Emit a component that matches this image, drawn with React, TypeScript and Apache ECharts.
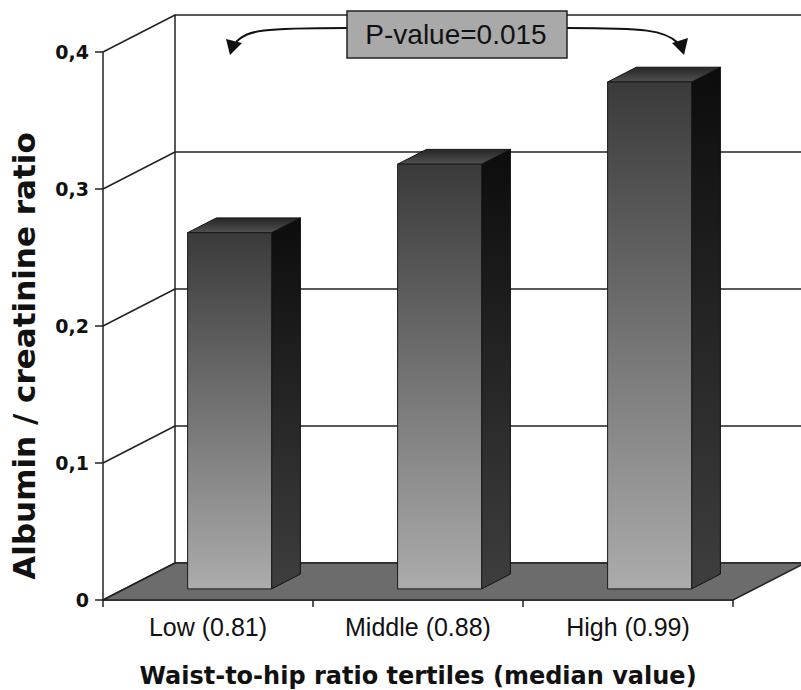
import React, { useEffect, useRef } from "react";
import * as echarts from "echarts";

const categories = ["Low (0.81)", "Middle (0.88)", "High (0.99)"];
const ratioValues = [0.26, 0.31, 0.37];
const yTickValues = [0, 0.1, 0.2, 0.3, 0.4];
const yTickLabels = ["0", "0,1", "0,2", "0,3", "0,4"];
const pValueLabel = "P-value=0.015";
const xTitle = "Waist-to-hip ratio tertiles (median value)";
const yTitle = "Albumin / creatinine ratio";

// 3D depth offset (pixels) of the chart box
const DX = 72;
const DY = -37;
const BAR_FRONT = 0.3; // depth fraction where bar front face lies
const BAR_DEPTH = 0.4; // depth fraction of bar
const BAR_WIDTH = 0.4; // fraction of category band

export default function App() {
  const ref = useRef<HTMLDivElement>(null);
  useEffect(() => {
    document.body.style.margin = "0";
    const chart = echarts.init(ref.current!, null, { renderer: "svg" });

    const frontGrad = new echarts.graphic.LinearGradient(0, 0, 0, 1, [
      { offset: 0, color: "#3a3a3a" },
      { offset: 1, color: "#acacac" },
    ]);
    const sideGrad = new echarts.graphic.LinearGradient(0, 0, 0, 1, [
      { offset: 0, color: "#0c0c0c" },
      { offset: 1, color: "#3e3e3e" },
    ]);
    const topGrad = new echarts.graphic.LinearGradient(0, 0, 0, 1, [
      { offset: 0, color: "#262626" },
      { offset: 1, color: "#505050" },
    ]);

    const option: any = {
      animation: false,
      backgroundColor: "#ffffff",
      grid: [
        { left: 103, top: 52, width: 630, height: 548, containLabel: false, outerBoundsMode: "none" },
        { left: 103 + DX, top: 52 + DY, width: 630, height: 548, containLabel: false, outerBoundsMode: "none" },
      ],
      xAxis: [
        {
          gridIndex: 0,
          type: "category",
          data: categories,
          axisLine: { show: true, lineStyle: { color: "#222", width: 1.5 } },
          axisTick: { show: true, length: 7, lineStyle: { color: "#222", width: 1.5 } },
          axisLabel: {
            margin: 14,
            fontFamily: "Liberation Sans",
            fontSize: 25,
            color: "#111",
          },
          splitLine: { show: false },
          name: xTitle,
          nameLocation: "middle",
          nameGap: 64,
          nameTextStyle: {
            fontFamily: "DejaVu Sans",
            fontWeight: "bold",
            fontSize: 24,
            color: "#111",
          },
        },
        {
          gridIndex: 1,
          type: "category",
          data: categories,
          show: false,
        },
      ],
      yAxis: [
        {
          gridIndex: 0,
          type: "value",
          min: 0,
          max: 0.4,
          interval: 0.1,
          axisLine: { show: true, lineStyle: { color: "#222", width: 1.5 } },
          axisTick: { show: true, length: 8, lineStyle: { color: "#222", width: 1.5 } },
          axisLabel: {
            margin: 14,
            fontFamily: "DejaVu Sans",
            fontWeight: "bold",
            fontSize: 19,
            color: "#111",
            formatter: (v: number, i: number) => yTickLabels[i] ?? String(v),
          },
          splitLine: { show: false },
          name: yTitle,
          nameLocation: "middle",
          nameGap: 64,
          nameTextStyle: {
            fontFamily: "DejaVu Sans",
            fontWeight: "bold",
            fontSize: 31,
            color: "#111",
            padding: [0, 60, 0, 0],
          },
        },
        {
          gridIndex: 1,
          type: "value",
          min: 0,
          max: 0.4,
          interval: 0.1,
          axisLine: { show: true, lineStyle: { color: "#222", width: 1.5 } },
          axisTick: { show: false },
          axisLabel: { show: false },
          splitLine: { show: true, lineStyle: { color: "#222", width: 1.5 } },
        },
      ],
      series: [
        {
          // diagonal lines from the front axis ticks to the back wall
          type: "custom",
          xAxisIndex: 0,
          yAxisIndex: 0,
          z: 3,
          silent: true,
          data: yTickValues.map((v) => [0, v]),
          renderItem: (params: any, api: any) => {
            const p = api.coord([0, api.value(1)]);
            const band = api.size([1, 0])[0];
            const x0 = p[0] - band / 2;
            return {
              type: "line",
              shape: { x1: x0, y1: p[1], x2: x0 + DX, y2: p[1] + DY },
              style: { stroke: "#222", lineWidth: 1.5 },
            };
          },
        },
        {
          // floor
          type: "custom",
          xAxisIndex: 0,
          yAxisIndex: 0,
          z: 4,
          silent: true,
          data: [[0, 0]],
          renderItem: (params: any, api: any) => {
            const band = api.size([1, 0])[0];
            const a = api.coord([0, 0]);
            const b = api.coord([categories.length - 1, 0]);
            const xl = a[0] - band / 2;
            const xr = b[0] + band / 2;
            const y = a[1];
            return {
              type: "polygon",
              shape: {
                points: [
                  [xl, y],
                  [xr, y],
                  [xr + DX, y + DY],
                  [xl + DX, y + DY],
                ],
              },
              style: { fill: "#6c6c6c", stroke: "#222", lineWidth: 1.5 },
            };
          },
        },
        {
          // 3D bars
          type: "custom",
          xAxisIndex: 0,
          yAxisIndex: 0,
          z: 5,
          data: ratioValues.map((v, i) => [i, v]),
          encode: { x: 0, y: 1 },
          renderItem: (params: any, api: any) => {
            const idx = api.value(0);
            const v = api.value(1);
            const base = api.coord([idx, 0]);
            const top = api.coord([idx, v]);
            const band = api.size([1, 0])[0];
            const w = band * BAR_WIDTH;
            const fx = base[0] - w / 2 + DX * BAR_FRONT;
            const fyb = base[1] + DY * BAR_FRONT;
            const fyt = top[1] + DY * BAR_FRONT;
            const dx = DX * BAR_DEPTH;
            const dy = DY * BAR_DEPTH;
            return {
              type: "group",
              children: [
                {
                  type: "polygon",
                  shape: {
                    points: [
                      [fx + w, fyt],
                      [fx + w + dx, fyt + dy],
                      [fx + w + dx, fyb + dy],
                      [fx + w, fyb],
                    ],
                  },
                  style: { fill: sideGrad, stroke: "#111", lineWidth: 1 },
                },
                {
                  type: "polygon",
                  shape: {
                    points: [
                      [fx, fyt],
                      [fx + dx, fyt + dy],
                      [fx + w + dx, fyt + dy],
                      [fx + w, fyt],
                    ],
                  },
                  style: { fill: topGrad, stroke: "#111", lineWidth: 1 },
                },
                {
                  type: "rect",
                  shape: { x: fx, y: fyt, width: w, height: fyb - fyt },
                  style: { fill: frontGrad, stroke: "#1a1a1a", lineWidth: 1 },
                },
              ],
            };
          },
        },
      ],
      graphic: [
        {
          type: "bezierCurve",
          z: 10,
          shape: { x1: 347, y1: 28, cpx1: 262, cpy1: 28, cpx2: 248, cpy2: 30, x2: 236, y2: 42 },
          style: { stroke: "#111", lineWidth: 2, fill: "none" },
        },
        {
          type: "polygon",
          z: 10,
          shape: { points: [[226, 39], [242, 43], [230, 55]] },
          style: { fill: "#111" },
        },
        {
          type: "bezierCurve",
          z: 10,
          shape: { x1: 567, y1: 28, cpx1: 645, cpy1: 28, cpx2: 665, cpy2: 30, x2: 678, y2: 43 },
          style: { stroke: "#111", lineWidth: 2, fill: "none" },
        },
        {
          type: "polygon",
          z: 10,
          shape: { points: [[672, 43], [688, 38], [684, 55]] },
          style: { fill: "#111" },
        },
        {
          type: "rect",
          z: 11,
          shape: { x: 347, y: 11, width: 220, height: 47 },
          style: { fill: "#a9a9a9", stroke: "#222", lineWidth: 1.5 },
        },
        {
          type: "text",
          z: 12,
          x: 456,
          y: 34,
          style: {
            text: pValueLabel,
            fontFamily: "Liberation Sans",
            fontSize: 28,
            fill: "#111",
            align: "center",
            verticalAlign: "middle",
          },
        },
      ],
    };
    chart.setOption(option);
    return () => chart.dispose();
  }, []);
  return <div ref={ref} style={{ width: 801, height: 690 }} />;
}
